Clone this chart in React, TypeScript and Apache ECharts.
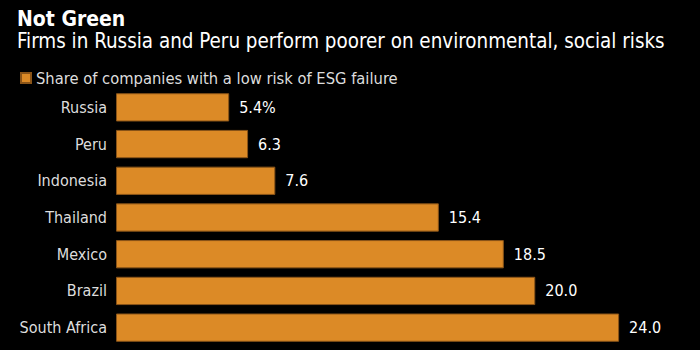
import React, { useEffect, useRef } from "react";
import * as echarts from "echarts";

const categories = ["Russia", "Peru", "Indonesia", "Thailand", "Mexico", "Brazil", "South Africa"];
const shares = [5.4, 6.3, 7.6, 15.4, 18.5, 20.0, 24.0];
const titleText = "Not Green";
const subtitleText = "Firms in Russia and Peru perform poorer on environmental, social risks";
const seriesName = "Share of companies with a low risk of ESG failure";

const FONT = "'DejaVu Sans Condensed', 'Liberation Sans', sans-serif";

export default function App() {
  const ref = useRef<HTMLDivElement>(null);
  useEffect(() => {
    if (!ref.current) return;
    const chart = echarts.init(ref.current, null, { renderer: "svg" });
    chart.setOption({
      animation: false,
      backgroundColor: "#000000",
      textStyle: { fontFamily: FONT },
      title: {
        text: titleText,
        subtext: subtitleText,
        left: 12,
        top: 3,
        itemGap: 2,
        textStyle: { color: "#ffffff", fontSize: 21, fontWeight: "bold", fontFamily: FONT },
        subtextStyle: { color: "#ffffff", fontSize: 20.4, fontFamily: FONT },
      },
      legend: {
        left: 15,
        top: 65,
        icon: "rect",
        itemWidth: 10,
        itemHeight: 10,
        itemGap: 10,
        textStyle: { color: "#dddddd", fontSize: 16.4, fontFamily: FONT },
        data: [seriesName],
      },
      grid: { left: 116, right: 18, top: 89, bottom: 4, containLabel: false },
      xAxis: { type: "value", min: 0, max: 27, show: false },
      yAxis: {
        type: "category",
        inverse: true,
        data: categories,
        axisLine: { show: false },
        axisTick: { show: false },
        axisLabel: { color: "#dddddd", fontSize: 16, margin: 9, fontFamily: FONT },
      },
      series: [
        {
          name: seriesName,
          type: "bar",
          data: shares,
          barCategoryGap: "23%",
          itemStyle: { color: "#dc8a26", borderColor: "#8a5418", borderWidth: 1 },
          label: {
            show: true,
            position: "right",
            distance: 10,
            color: "#ffffff",
            fontSize: 16,
            fontFamily: FONT,
            formatter: (p: any) => (p.dataIndex === 0 ? p.value.toFixed(1) + "%" : p.value.toFixed(1)),
          },
        },
      ],
    });
    return () => chart.dispose();
  }, []);
  return <div ref={ref} style={{ width: 700, height: 350, position: "absolute", left: 0, top: 0 }} />;
}
